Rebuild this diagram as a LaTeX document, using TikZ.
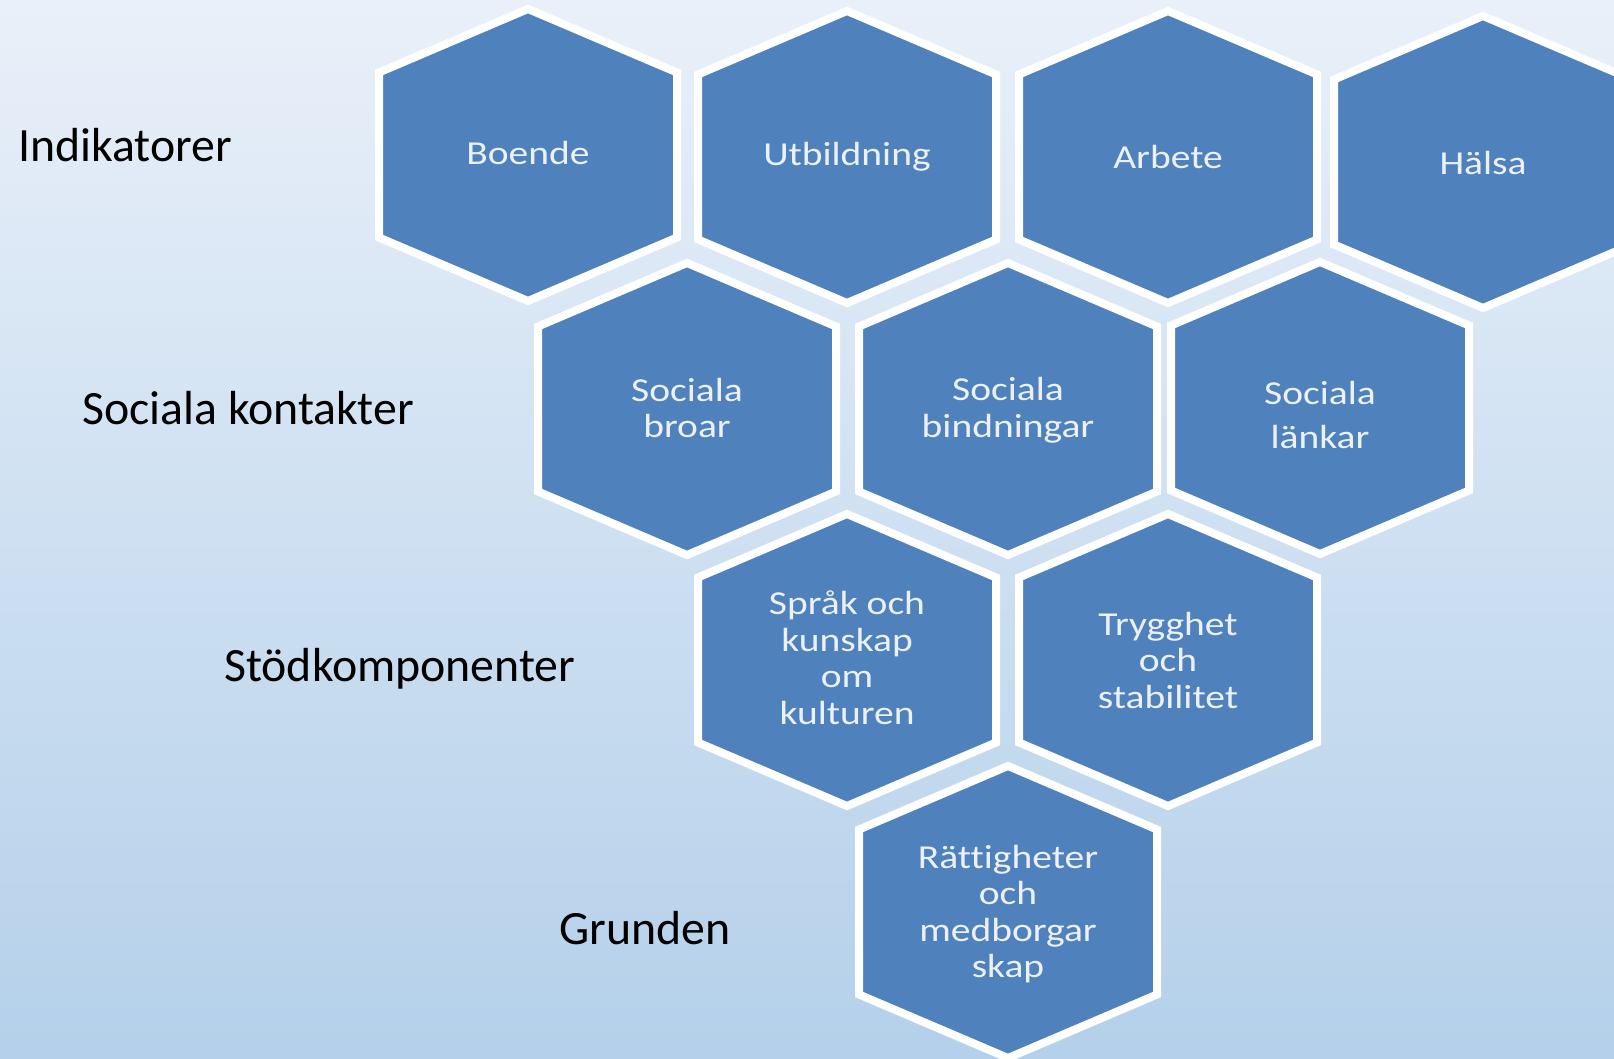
\documentclass[tikz,border=0pt]{standalone}
\usepackage{fontspec}
\setmainfont{Carlito}
\newfontfamily\hexfont[FakeStretch=1.18,Ligatures=NoCommon]{Carlito}
\definecolor{hexblue}{RGB}{79,129,189}
\definecolor{hextext}{RGB}{236,241,248}
\definecolor{bgtop}{RGB}{233,240,249}
\definecolor{bgbot}{RGB}{180,208,234}
\begin{document}
\begin{tikzpicture}[x=1pt,y=-1pt,
  hexshape/.style={fill=hexblue, draw=white, line width=8pt, line join=miter},
  hextxt/.style={text=hextext, font=\hexfont\fontsize{33.5}{36.5}\selectfont, align=center, inner sep=0pt},
  rowlabel/.style={text=black, font=\fontsize{47.8}{56}\selectfont, anchor=base west, inner sep=0pt},
  hexpic/.pic={\draw[hexshape] (-149,-82.5) -- (0,-146) -- (149,-82.5) -- (149,82.5) -- (0,146) -- (-149,82.5) -- cycle;}]
\useasboundingbox (0,0) rectangle (1614,1059);
\shade[top color=bgtop, bottom color=bgbot] (0,0) rectangle (1614,1059);

% row 1
\pic at (528,155) {hexpic};
\pic at (847,157) {hexpic};
\pic at (1168,157) {hexpic};
\pic at (1483,162) {hexpic};
% row 2
\pic at (687,409) {hexpic};
\pic at (1008,409) {hexpic};
\pic at (1320,408) {hexpic};
% row 3
\pic at (847,660) {hexpic};
\pic at (1168,660) {hexpic};
% row 4
\pic at (1008,912) {hexpic};

\node[hextxt] (boende) at (528,153) {Boende};
\node[hextxt] (utbildning) at (847,157) {Utbildning};
\node[hextxt] (arbete) at (1168,157) {Arbete};
\node[hextxt] (halsa) at (1483,163) {Hälsa};
\node[hextxt] (broar) at (687,408) {Sociala\\broar};
\node[hextxt] (bindningar) at (1008,410) {Sociala\\bindningar};
\node[hextxt, font=\hexfont\fontsize{33.5}{44}\selectfont] (lankar) at (1320,415) {Sociala\\länkar};
\node[hextxt] (sprak) at (847,658) {Språk och\\kunskap\\om\\kulturen};
\node[hextxt] (trygghet) at (1168,660) {Trygghet\\och\\stabilitet};
\node[hextxt] (rattigheter) at (1008,914) {Rättigheter\\och\\medborgar\\skap};

\node[rowlabel] (indikatorer) at (18,162) {Indikatorer};
\node[rowlabel] (kontakter) at (82,424) {Sociala kontakter};
\node[rowlabel] (stod) at (224,681) {Stödkomponenter};
\node[rowlabel] (grunden) at (559,944) {Grunden};
\end{tikzpicture}
\end{document}
